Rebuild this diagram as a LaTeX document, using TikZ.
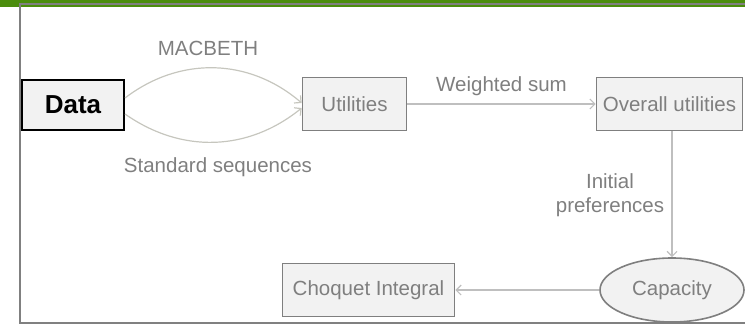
\documentclass[tikz,border=0pt]{standalone}
\usepackage{fontspec}
\setmainfont{Liberation Sans}
\usepackage{tikz}
\usetikzlibrary{arrows}
\usetikzlibrary{arrows.meta}
\usetikzlibrary{shapes}

\definecolor{boxfill}{HTML}{F2F2F2}
\definecolor{boxline}{HTML}{7F7F7F}
\definecolor{textgray}{HTML}{7F7F7F}
\definecolor{arrowgray}{HTML}{BFBFBF}
\definecolor{curvegray}{HTML}{C6C6BE}
\definecolor{framegreen}{HTML}{4B8D0D}
\definecolor{framegray}{HTML}{808080}

\begin{document}
\begin{tikzpicture}[x=1pt, y=-1pt, >={Straight Barb[length=5pt,width=10pt]},
    box/.style={draw=boxline, line width=1.6pt, fill=boxfill, text=textgray,
        font=\fontsize{20.5}{24}\selectfont, inner sep=0pt},
    link/.style={->, draw=arrowgray, line width=1.2pt},
    curve/.style={->, draw=curvegray, line width=1.2pt},
    lab/.style={text=textgray, font=\fontsize{20.5}{24}\selectfont, align=center}]
        \useasboundingbox (0,0) rectangle (745,324);
        \fill[framegreen] (0,0) rectangle (745,7);
        \draw[framegray, line width=2pt] (745,4) -- (20,4) -- (20,323) -- (745,323);

        \draw (73,105) node [box, draw=black, line width=2pt, text=black, font=\fontsize{26}{30}\selectfont\bfseries,
            minimum width=102pt, minimum height=50pt] (data) {Data};
        \draw (354.5,104) node [box, minimum width=104pt, minimum height=53pt] (util) {Utilities};
        \draw (669.5,104) node [box, minimum width=146pt, minimum height=53pt] (overall) {Overall utilities};
        \draw (672,290) node [box, ellipse, minimum width=144pt, minimum height=64pt] (cap) {Capacity};
        \draw (368.5,290) node [box, minimum width=172pt, minimum height=53pt] (choquet) {Choquet Integral};

        \draw[curve] ([yshift=7pt]data.east) to [bend left=39] ([yshift=1pt]util.west);
        \draw[curve] ([yshift=-9pt]data.east) to [bend right=37] ([yshift=-4pt]util.west);
        \draw[link] (util) -- node [lab, above=4pt] {Weighted sum} (overall);
        \draw[link] (overall.south -| cap.north) -- (cap.north);
        \draw[link] (cap) -- (choquet);

        \draw (208,48) node [lab] (macbeth) {MACBETH};
        \draw (218,167) node [lab] (stdseq) {Standard sequences};
        \draw (610,195) node [lab] (initpref) {Initial\\preferences};
    \end{tikzpicture}
\end{document}
